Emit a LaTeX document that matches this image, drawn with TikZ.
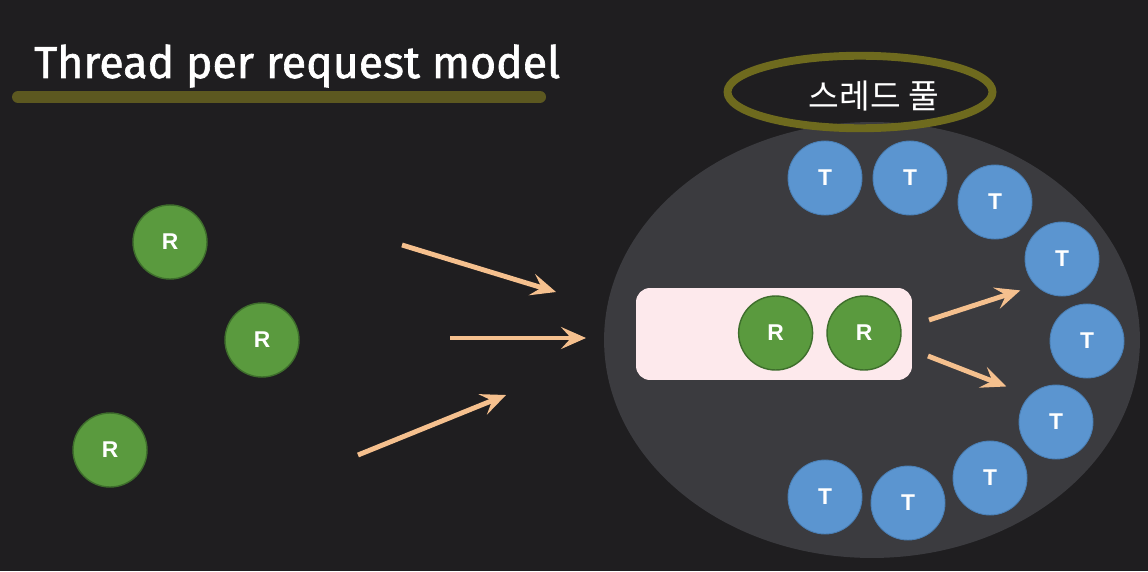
\documentclass[tikz,border=0pt]{standalone}
\usepackage{fontspec}
\setmainfont{Fira Sans}
\setsansfont{Liberation Sans}
\newfontfamily\krfont{Noto Sans CJK KR}
\newfontfamily\titlefont{Fira Sans}[FakeBold=1.4]
\usetikzlibrary{arrows.meta,positioning,shapes.geometric}
\definecolor{bgdark}{HTML}{1F1E20}
\definecolor{poolgray}{HTML}{3B3B3F}
\definecolor{olivemark}{HTML}{6E6A1E}
\definecolor{olivebar}{HTML}{5C5820}
\definecolor{reqgreen}{HTML}{5A9A3E}
\definecolor{reqedge}{HTML}{3E6E2C}
\definecolor{thrblue}{HTML}{5B95D0}
\definecolor{thredge}{HTML}{4A7FB5}
\definecolor{queuepink}{HTML}{FDE9EC}
\definecolor{peach}{HTML}{F5C08E}

\begin{document}
\begin{tikzpicture}[
  x=0.02cm, y=-0.02cm,
  req/.style={circle, draw=reqedge, line width=0.8pt, fill=reqgreen, minimum size=1.48cm, inner sep=0pt, text=white, font=\sffamily\bfseries\fontsize{13}{13}\selectfont},
  thr/.style={circle, draw=thredge, line width=0.5pt, fill=thrblue, minimum size=1.48cm, inner sep=0pt, text=white, font=\sffamily\bfseries\fontsize{13}{13}\selectfont},
  arr/.style={-{Stealth[length=5mm, width=4.4mm, inset=2mm]}, line width=2.8pt, color=peach},
]
  % background
  \fill[bgdark] (0,0) rectangle (1148,571);
  \useasboundingbox (0,0) rectangle (1148,571);

  % title
  \node[anchor=west, text=white, font=\titlefont\fontsize{25.4}{25.4}\selectfont] (title) at (28,66) {Thread per request model};
  \draw[olivebar, line width=0.24cm, line cap=round] (18,97) -- (540,97);

  % pool
  \node[ellipse, fill=poolgray, minimum width=10.72cm, minimum height=8.72cm] (pool) at (872,340) {};
  \node[ellipse, draw=olivemark, line width=4.5pt, minimum width=5.3cm, minimum height=1.45cm] (poolmark) at (860,92) {};
  \node[text=white, font=\krfont\fontsize{19}{19}\selectfont] (poollabel) at (874,96) {스레드 풀};

  % incoming requests
  \node[req] (r1) at (170,242) {R};
  \node[req] (r2) at (262,340) {R};
  \node[req] (r3) at (110,450) {R};

  \coordinate (a1s) at (402,245);
  \coordinate (a1e) at (556,292);
  \coordinate (a2s) at (450,338);
  \coordinate (a2e) at (586,338);
  \coordinate (a3s) at (358,455);
  \coordinate (a3e) at (506,395);
  \draw[arr] (a1s) -- (a1e);
  \draw[arr] (a2s) -- (a2e);
  \draw[arr] (a3s) -- (a3e);

  % queue
  \node[rounded corners=8pt, fill=queuepink, minimum width=5.52cm, minimum height=1.84cm] (queue) at (774,334) {};
  \node[req] (q2) at (864,333) {R};
  \node[req, left=0.26cm of q2] (q1) {R};

  % threads
  \node[thr] (t1) at (825,178) {T};
  \node[thr] (t2) at (910,178) {T};
  \node[thr] (t3) at (995,202) {T};
  \node[thr] (t4) at (1062,259) {T};
  \node[thr] (t5) at (1087,341) {T};
  \node[thr] (t6) at (1056,422) {T};
  \node[thr] (t7) at (990,478) {T};
  \node[thr] (t8) at (908,503) {T};
  \node[thr] (t9) at (825,497) {T};

  \coordinate (b1s) at (929,320);
  \coordinate (b2s) at (928,356);
  \draw[arr, shorten >=0.32cm] (b1s) -- (t4.south west);
  \draw[arr, shorten >=0.5cm] (b2s) -- (t6.north west);
\end{tikzpicture}
\end{document}
